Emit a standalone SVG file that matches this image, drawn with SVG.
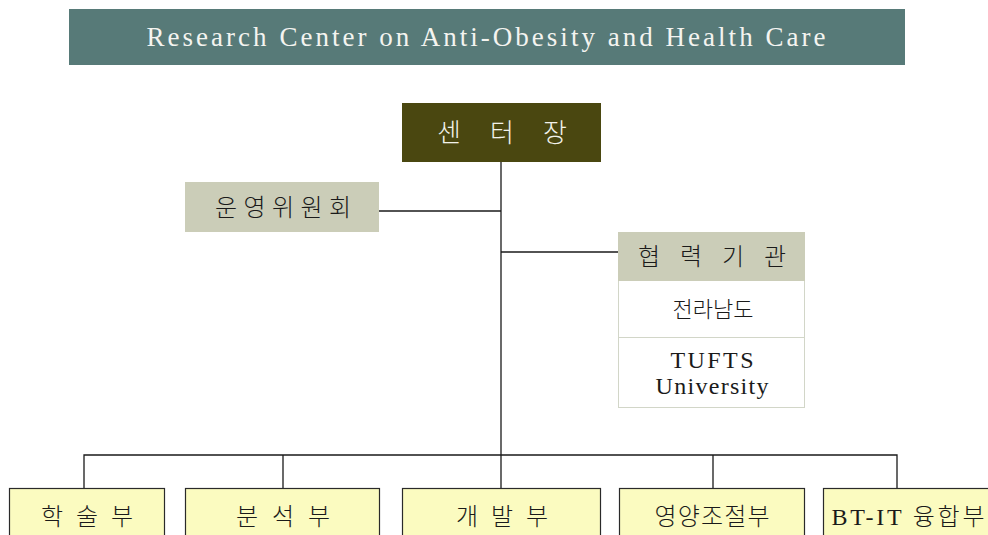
<svg xmlns="http://www.w3.org/2000/svg" width="988" height="535" viewBox="0 0 988 535">
<style>
.kr{font-family:"Noto Sans CJK KR","Liberation Serif",sans-serif;font-weight:300;}
.lat{font-family:"Liberation Serif","DejaVu Serif",serif;font-weight:400;}
.ln{stroke:#1a1a1a;stroke-width:1.3;fill:none;}
.dept{fill:#fbfbc0;stroke:#2a2a2a;stroke-width:1.2;}
.dt{font-size:24px;fill:#1a1a1a;text-anchor:middle;}
</style>
<rect width="988" height="535" fill="#ffffff"/>
<g id="title">
<rect x="69" y="9" width="836" height="56" fill="#577a78"/>
<text class="lat" x="486" y="46" font-size="27" fill="#f4f4f0" text-anchor="middle" textLength="679" lengthAdjust="spacing">Research Center on Anti-Obesity and Health Care</text>
</g>
<g id="connectors">
<line class="ln" x1="501" y1="162" x2="501" y2="455"/>
<line class="ln" x1="379" y1="211" x2="501" y2="211"/>
<line class="ln" x1="501" y1="252" x2="618" y2="252"/>
<polyline class="ln" points="84,488 84,455 897,455 897,488"/>
<line class="ln" x1="283" y1="455" x2="283" y2="488"/>
<line class="ln" x1="501" y1="455" x2="501" y2="488"/>
<line class="ln" x1="713" y1="455" x2="713" y2="488"/>
</g>
<g id="director">
<rect x="402" y="103" width="199" height="59" fill="#4a4710"/>
<text class="kr" x="502" y="142" font-size="26" fill="#f2f2ea" text-anchor="middle" textLength="130" lengthAdjust="spacing">센 터 장</text>
</g>
<g id="committee">
<rect x="185" y="182" width="194" height="50" fill="#cbcdb8"/>
<text class="kr" x="283" y="216" font-size="24" fill="#1a1a1a" text-anchor="middle" textLength="136" lengthAdjust="spacing">운영위원회</text>
</g>
<g id="partners">
<rect x="618.5" y="232.5" width="186" height="175" fill="#ffffff" stroke="#d2d6c8" stroke-width="1"/>
<rect x="618" y="232" width="187" height="49" fill="#cbcdb8"/>
<line x1="618" y1="337.5" x2="805" y2="337.5" stroke="#d2d6c8" stroke-width="1"/>
<text class="kr" x="712" y="265" font-size="24" fill="#1a1a1a" text-anchor="middle" textLength="148" lengthAdjust="spacing">협 력 기 관</text>
<text class="kr" x="713" y="317" font-size="22" fill="#1a1a1a" text-anchor="middle">전라남도</text>
<text class="lat" x="712" y="368" font-size="24" fill="#1a1a1a" text-anchor="middle" textLength="83" lengthAdjust="spacing">TUFTS</text>
<text class="lat" x="712" y="394" font-size="24" fill="#1a1a1a" text-anchor="middle" textLength="113" lengthAdjust="spacing">University</text>
</g>
<g id="dept1">
<rect class="dept" x="9.5" y="488.5" width="155" height="60"/>
<text class="kr dt" x="87" y="525" textLength="92" lengthAdjust="spacing">학 술 부</text>
</g>
<g id="dept2">
<rect class="dept" x="185.5" y="488.5" width="194" height="60"/>
<text class="kr dt" x="283" y="525" textLength="94" lengthAdjust="spacing">분 석 부</text>
</g>
<g id="dept3">
<rect class="dept" x="402.5" y="488.5" width="198" height="60"/>
<text class="kr dt" x="502" y="525" textLength="92" lengthAdjust="spacing">개 발 부</text>
</g>
<g id="dept4">
<rect class="dept" x="619.5" y="488.5" width="185" height="60"/>
<text class="kr dt" x="712" y="525" textLength="115" lengthAdjust="spacing">영양조절부</text>
</g>
<g id="dept5">
<rect class="dept" x="823.5" y="488.5" width="170" height="60"/>
<text class="kr dt" x="908" y="525" textLength="153" lengthAdjust="spacing"><tspan class="lat">BT-IT</tspan> 융합부</text>
</g>
</svg>
